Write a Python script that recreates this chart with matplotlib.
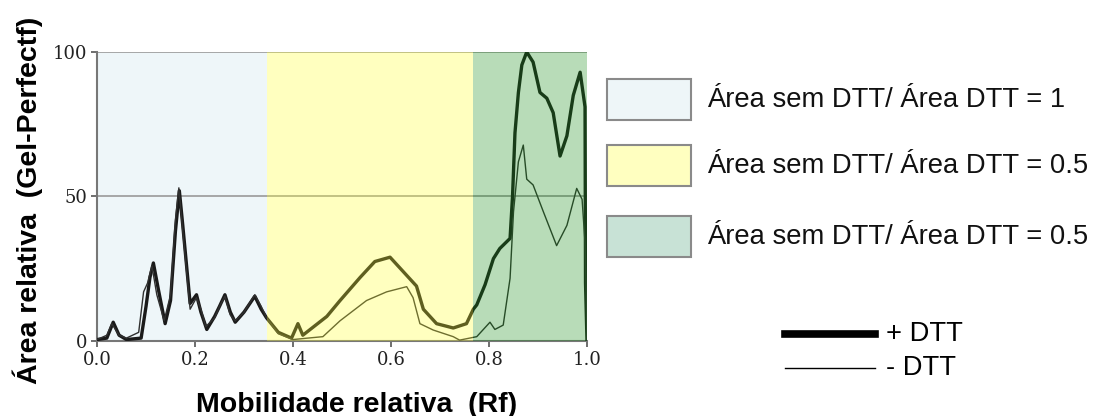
import matplotlib
matplotlib.use("Agg")
import matplotlib.pyplot as plt
from matplotlib.patches import Rectangle
from matplotlib.lines import Line2D

# ---- data ----
x_plus = [0.0, 0.02, 0.033, 0.045, 0.06, 0.09, 0.10, 0.108, 0.115, 0.125, 0.139, 0.15, 0.16, 0.168, 0.175,
          0.19, 0.203, 0.212, 0.224, 0.24, 0.25, 0.261, 0.272, 0.282, 0.30, 0.322, 0.335, 0.346, 0.37,
          0.397, 0.41, 0.42, 0.469, 0.496, 0.537, 0.567, 0.598, 0.625, 0.652, 0.666, 0.693, 0.727,
          0.754, 0.768, 0.775, 0.792, 0.809, 0.822, 0.843, 0.848, 0.853, 0.86, 0.867, 0.877, 0.89,
          0.904, 0.918, 0.931, 0.945, 0.959, 0.972, 0.986, 0.996, 0.997, 1.0]
y_plus = [0.5, 1, 6.5, 2, 0.5, 1, 12, 22, 27, 18, 6, 14, 38, 52, 40,
          13, 16, 10, 4, 8.5, 12, 16, 10, 6.5, 10, 15.5, 11, 8, 3,
          1, 6, 2, 8.5, 14, 22, 27.5, 29, 24, 19, 11, 6, 4.5,
          6, 11, 12.5, 19.5, 28.5, 32, 35.5, 50, 72, 86, 95.5, 100, 96.5,
          86, 84, 79, 64, 71, 85, 93, 81, 20, 0]

x_minus = [0.0, 0.02, 0.03, 0.045, 0.06, 0.085, 0.095, 0.103, 0.112, 0.122, 0.137, 0.15, 0.16, 0.167, 0.175,
           0.19, 0.203, 0.212, 0.222, 0.24, 0.25, 0.261, 0.272, 0.282, 0.30, 0.322, 0.335, 0.346, 0.37,
           0.40, 0.43, 0.461, 0.496, 0.55, 0.591, 0.632, 0.645, 0.659, 0.686, 0.727, 0.74, 0.775,
           0.802, 0.812, 0.829, 0.843, 0.85, 0.86, 0.87, 0.877, 0.89, 0.911, 0.938, 0.959, 0.979,
           0.99, 0.996, 0.998, 1.0]
y_minus = [0.5, 2, 6, 2, 1, 3, 17, 20, 26, 16, 7, 16, 42, 53, 38,
           11, 15, 11, 5, 8, 12, 15.5, 9, 7, 10, 16, 12, 8, 2.5,
           0.5, 1, 1.5, 7, 14, 17, 18.8, 15, 6, 3.8, 1.5, 0.3, 1.5,
           6.5, 4, 5.5, 21.7, 44.7, 62, 67.8, 56, 54, 44.7, 33, 40, 52.8,
           49, 34, 20, 0]

regions = [(0.0, 0.347), (0.347, 0.767), (0.767, 1.0)]
region_colors = ["#EEF6F9", "#FFFFC0", "#B8DCB8"]
legend_labels = ["Área sem DTT/ Área DTT = 1",
                 "Área sem DTT/ Área DTT = 0.5",
                 "Área sem DTT/ Área DTT = 0.5"]
legend_colors = ["#EEF6F8", "#FFFFC0", "#C8E2D6"]
line_labels = ["+ DTT", "- DTT"]

xticks = [0.0, 0.2, 0.4, 0.6, 0.8, 1.0]
xtick_labels = ["0.0", "0.2", "0.4", "0.6", "0.8", "1.0"]
yticks = [0, 50, 100]

# ---- figure ----
fig = plt.figure(figsize=(11.09, 4.16), dpi=100)
ax = fig.add_axes([0.0875, 0.1803, 0.4418, 0.6947])

# first zone: plain background
ax.axvspan(regions[0][0], regions[0][1], color=region_colors[0], lw=0, zorder=0)

for yv in [50, 100]:
    ax.axhline(yv, color="#999999", lw=1.2, zorder=1)

ax.plot(x_plus, y_plus, color="#1a1a1a", lw=2.4, zorder=3)
ax.plot(x_minus, y_minus, color="#303030", lw=1.0, zorder=3)

# coloured zones laid over the lines (tints the lines as in the original)
ax.axvspan(regions[1][0], regions[1][1], color=(1.0, 1.0, 0.176), alpha=0.3, lw=0, zorder=4)
ax.axvspan(regions[2][0], regions[2][1], color=(0.08, 0.55, 0.08), alpha=0.3, lw=0, zorder=4)

ax.set_xlim(0, 1.0)
ax.set_ylim(0, 100)
ax.set_xticks(xticks)
ax.set_xticklabels(xtick_labels)
ax.set_yticks(yticks)
for lab in ax.get_xticklabels() + ax.get_yticklabels():
    lab.set_family("DejaVu Serif")
    lab.set_fontsize(13)
    lab.set_color("#222222")
ax.tick_params(axis="both", length=4, width=1.2, color="#555555", pad=3)
for s in ["top", "right"]:
    ax.spines[s].set_visible(False)
for s in ["left", "bottom"]:
    ax.spines[s].set_color("#777777")
    ax.spines[s].set_linewidth(1.5)

W, H = 1109.0, 416.0
fig.text(357 / W, 1 - 412 / H, "Mobilidade relativa  (Rf)", fontsize=20.5, fontweight="bold",
         family="Liberation Sans", ha="center", va="baseline")
fig.text(0.025, 1 - 200 / H, "Área relativa  (Gel-Perfectf)", rotation=90, fontsize=20.5,
         fontweight="bold", family="Liberation Sans", ha="center", va="center")

# legend patches
patch_tops = [79, 145, 216]
for top, c, lab in zip(patch_tops, legend_colors, legend_labels):
    fig.patches.append(Rectangle((607 / W, 1 - (top + 41) / H), 84 / W, 41 / H,
                                 transform=fig.transFigure, facecolor=c,
                                 edgecolor="#8a8a8a", lw=1.5))
    fig.text(707 / W, 1 - (top + 21) / H, lab, fontsize=19.7, family="Liberation Sans",
             ha="left", va="center", color="#111111")

fig.lines.append(Line2D([785 / W, 875 / W], [1 - 334 / H, 1 - 334 / H],
                        transform=fig.transFigure, color="black", lw=5.5))
fig.lines.append(Line2D([785 / W, 875 / W], [1 - 368 / H, 1 - 368 / H],
                        transform=fig.transFigure, color="black", lw=1.0))
fig.text(886 / W, 1 - 334 / H, line_labels[0], fontsize=19.7, family="Liberation Sans",
         ha="left", va="center")
fig.text(886 / W, 1 - 368 / H, line_labels[1], fontsize=19.7, family="Liberation Sans",
         ha="left", va="center")

fig.savefig("out.png", dpi=100)
